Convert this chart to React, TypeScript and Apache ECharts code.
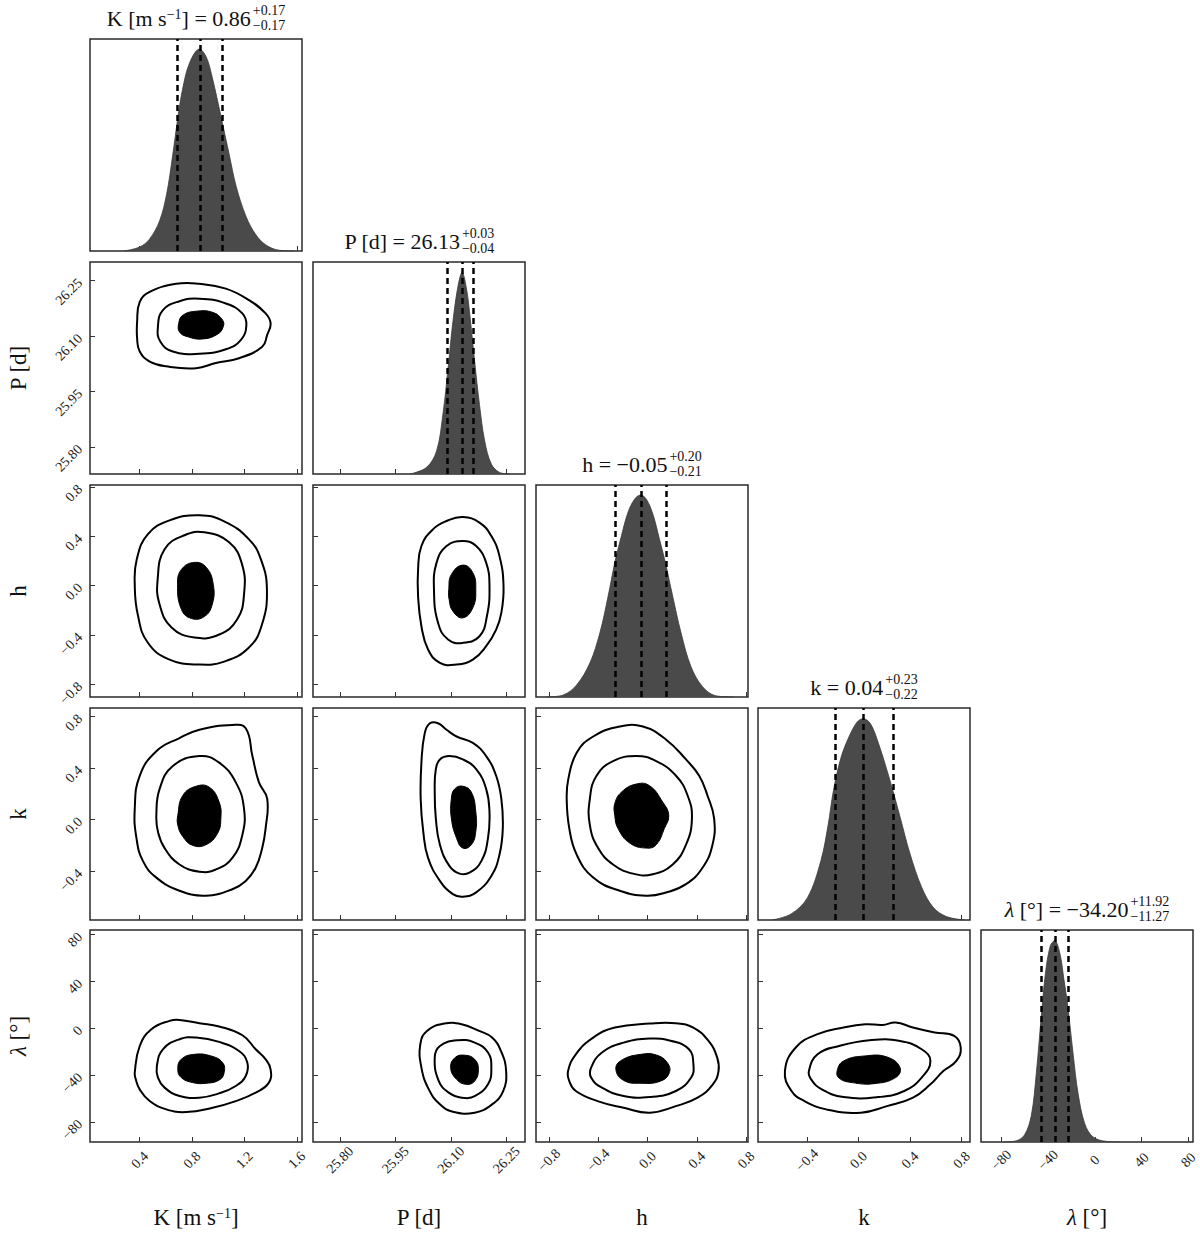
import React, { useEffect, useRef } from "react";
import * as echarts from "echarts";

const FONT = '"Liberation Serif", "DejaVu Serif", serif';

// ---------- axis ranges & ticks ----------
const rangeK = [0.02, 1.64];
const rangeP = [25.727, 26.3];
const rangeH = [-0.905, 0.815];
const rangeKk = [-0.78, 0.865];
const rangeL = [-97.3, 84];

const ticksK = [0.4, 0.8, 1.2, 1.6];
const ticksP = [25.8, 25.95, 26.1, 26.25];
const ticksH = [-0.8, -0.4, 0.0, 0.4, 0.8];
const ticksKk = [-0.4, 0.0, 0.4, 0.8];
const ticksL = [-80, -40, 0, 40, 80];
const tickDecimals = [1, 2, 1, 1, 0];

// ---------- summary statistics ----------
const medians = [0.86, 26.13, -0.05, 0.04, -34.2];
const errPlus = [0.17, 0.03, 0.2, 0.23, 11.92];
const errMinus = [0.17, 0.04, 0.21, 0.22, 11.27];

// ---------- marginal histograms (normalised heights) ----------
const histK = [[0.28, 0], [0.4, 0.02], [0.476, 0.06], [0.552, 0.15], [0.605, 0.28], [0.651, 0.47], [0.689, 0.65], [0.727, 0.8], [0.78, 0.93], [0.856, 1.0], [0.909, 0.96], [0.954, 0.86], [1.023, 0.66], [1.083, 0.48], [1.137, 0.32], [1.213, 0.17], [1.288, 0.08], [1.364, 0.03], [1.463, 0.004], [1.58, 0]];
const histP = [[25.99, 0], [26.034, 0.033], [26.061, 0.114], [26.078, 0.294], [26.092, 0.523], [26.105, 0.752], [26.119, 0.932], [26.13, 0.998], [26.142, 0.916], [26.152, 0.769], [26.164, 0.556], [26.177, 0.343], [26.191, 0.164], [26.209, 0.049], [26.231, 0.008], [26.26, 0]];
const histH = [[-0.82, 0], [-0.683, 0.01], [-0.575, 0.06], [-0.468, 0.168], [-0.387, 0.317], [-0.32, 0.499], [-0.266, 0.665], [-0.212, 0.798], [-0.159, 0.914], [-0.105, 0.98], [-0.056, 1.0], [-0.01, 0.98], [0.043, 0.906], [0.097, 0.781], [0.145, 0.665], [0.204, 0.499], [0.272, 0.317], [0.352, 0.151], [0.446, 0.051], [0.554, 0.006], [0.7, 0]];
const histKk = [[-0.67, 0], [-0.523, 0.03], [-0.395, 0.112], [-0.292, 0.294], [-0.236, 0.47], [-0.195, 0.64], [-0.138, 0.8], [-0.075, 0.906], [-0.01, 0.981], [0.036, 0.997], [0.092, 0.973], [0.156, 0.873], [0.221, 0.741], [0.267, 0.64], [0.323, 0.509], [0.4, 0.327], [0.49, 0.162], [0.579, 0.063], [0.682, 0.017], [0.82, 0]];
const histL = [[-78, 0], [-67.2, 0.006], [-60.1, 0.035], [-54.3, 0.13], [-50.0, 0.34], [-45.8, 0.62], [-42.1, 0.839], [-38.0, 0.972], [-34.3, 0.997], [-30.0, 0.938], [-26.4, 0.806], [-22.9, 0.664], [-18.6, 0.44], [-14.3, 0.241], [-8.6, 0.091], [-1.5, 0.025], [10.0, 0.003], [22, 0]];

// ---------- 2D contours (outer / middle / filled inner) ----------
const KP_outer = [[0.38, 26.138], [0.4, 26.192], [0.476, 26.219], [0.679, 26.241], [0.856, 26.241], [1.058, 26.228], [1.235, 26.197], [1.362, 26.161], [1.4, 26.134], [1.374, 26.103], [1.336, 26.071], [1.159, 26.04], [0.982, 26.027], [0.831, 26.013], [0.603, 26.018], [0.476, 26.031], [0.4, 26.058], [0.38, 26.094]];
const KP_mid = [[0.539, 26.125], [0.577, 26.17], [0.704, 26.194], [0.856, 26.201], [1.058, 26.188], [1.184, 26.161], [1.215, 26.129], [1.172, 26.089], [1.058, 26.064], [0.856, 26.052], [0.653, 26.058], [0.557, 26.085]];
const KP_inner = [[0.698, 26.134], [0.729, 26.156], [0.831, 26.167], [0.957, 26.164], [1.033, 26.143], [1.038, 26.125], [0.995, 26.105], [0.881, 26.092], [0.767, 26.098], [0.704, 26.111]];

const Kh_outer = [[0.377, 0.211], [0.461, 0.415], [0.628, 0.528], [0.856, 0.569], [1.045, 0.52], [1.235, 0.374], [1.326, 0.211], [1.372, -0.033], [1.334, -0.317], [1.235, -0.504], [1.045, -0.618], [0.856, -0.642], [0.628, -0.602], [0.461, -0.463], [0.385, -0.236], [0.362, 0.008]];
const Kh_mid = [[0.537, 0.049], [0.59, 0.293], [0.742, 0.407], [0.894, 0.431], [1.083, 0.35], [1.182, 0.171], [1.197, -0.073], [1.144, -0.276], [1.007, -0.398], [0.818, -0.423], [0.643, -0.341], [0.552, -0.154]];
const Kh_inner = [[0.689, 0.008], [0.719, 0.13], [0.818, 0.187], [0.909, 0.146], [0.962, 0.008], [0.954, -0.154], [0.894, -0.252], [0.795, -0.268], [0.719, -0.195]];

const Ph_outer = [[26.011, 0.13], [26.02, 0.32], [26.051, 0.455], [26.088, 0.523], [26.132, 0.555], [26.177, 0.51], [26.209, 0.401], [26.231, 0.238], [26.242, -0.006], [26.236, -0.222], [26.222, -0.358], [26.195, -0.493], [26.159, -0.602], [26.115, -0.642], [26.07, -0.628], [26.038, -0.52], [26.02, -0.331], [26.011, -0.087]];
const Ph_mid = [[26.054, -0.033], [26.061, 0.185], [26.088, 0.32], [26.132, 0.36], [26.168, 0.32], [26.195, 0.185], [26.204, -0.006], [26.197, -0.25], [26.177, -0.412], [26.132, -0.466], [26.092, -0.439], [26.065, -0.303]];
const Ph_inner = [[26.094, -0.033], [26.101, 0.089], [26.132, 0.165], [26.159, 0.103], [26.167, -0.033], [26.159, -0.181], [26.132, -0.263], [26.105, -0.209], [26.095, -0.114]];

const Kk_outer = [[0.362, 0.084], [0.4, 0.339], [0.527, 0.53], [0.704, 0.632], [0.856, 0.696], [1.108, 0.734], [1.21, 0.708], [1.261, 0.492], [1.311, 0.288], [1.374, 0.161], [1.362, -0.069], [1.336, -0.222], [1.286, -0.375], [1.21, -0.477], [1.108, -0.541], [0.906, -0.591], [0.704, -0.553], [0.527, -0.451], [0.425, -0.323], [0.375, -0.145]];
const Kk_mid = [[0.527, 0.033], [0.552, 0.237], [0.653, 0.415], [0.856, 0.492], [1.007, 0.441], [1.134, 0.288], [1.197, 0.084], [1.184, -0.12], [1.108, -0.298], [0.982, -0.388], [0.856, -0.405], [0.704, -0.349], [0.59, -0.222], [0.539, -0.094]];
const Kk_inner = [[0.691, 0.033], [0.729, 0.186], [0.831, 0.258], [0.932, 0.25], [1.007, 0.135], [1.02, 0.008], [0.995, -0.107], [0.906, -0.196], [0.805, -0.201], [0.729, -0.132], [0.691, -0.044]];

const Pk_outer = [[26.029, 0.67], [26.043, 0.747], [26.065, 0.747], [26.088, 0.696], [26.115, 0.644], [26.159, 0.594], [26.195, 0.492], [26.222, 0.339], [26.236, 0.161], [26.24, -0.069], [26.231, -0.273], [26.209, -0.438], [26.168, -0.566], [26.132, -0.599], [26.105, -0.579], [26.07, -0.476], [26.038, -0.298], [26.025, -0.094], [26.018, 0.161], [26.02, 0.441]];
const Pk_mid = [[26.059, 0.39], [26.07, 0.466], [26.096, 0.492], [26.132, 0.466], [26.168, 0.39], [26.195, 0.237], [26.204, 0.059], [26.2, -0.145], [26.182, -0.323], [26.15, -0.413], [26.123, -0.42], [26.096, -0.362], [26.07, -0.196], [26.059, 0.008], [26.056, 0.212]];
const Pk_inner = [[26.101, 0.161], [26.11, 0.237], [26.132, 0.258], [26.155, 0.212], [26.167, 0.059], [26.167, -0.094], [26.155, -0.196], [26.132, -0.222], [26.115, -0.145], [26.101, 0.008]];

const hk_outer = [[-0.643, 0.313], [-0.575, 0.518], [-0.441, 0.644], [-0.226, 0.721], [-0.038, 0.721], [0.151, 0.619], [0.312, 0.466], [0.419, 0.339], [0.486, 0.186], [0.54, 0.008], [0.527, -0.196], [0.446, -0.375], [0.312, -0.502], [0.151, -0.566], [-0.01, -0.591], [-0.226, -0.553], [-0.441, -0.451], [-0.575, -0.273], [-0.635, -0.069], [-0.656, 0.161]];
const hk_mid = [[-0.468, 0.161], [-0.414, 0.339], [-0.28, 0.453], [-0.091, 0.492], [0.07, 0.453], [0.231, 0.339], [0.325, 0.186], [0.36, 0.008], [0.312, -0.196], [0.204, -0.349], [0.043, -0.425], [-0.118, -0.42], [-0.28, -0.349], [-0.401, -0.222], [-0.468, -0.044]];
const hk_inner = [[-0.266, 0.122], [-0.212, 0.212], [-0.091, 0.275], [0.016, 0.262], [0.123, 0.135], [0.172, 0.033], [0.137, -0.069], [0.07, -0.196], [-0.01, -0.222], [-0.145, -0.183], [-0.24, -0.069], [-0.266, 0.033]];

const Kl_outer = [[0.362, -38.0], [0.4, -15.2], [0.489, -0.9], [0.628, 6.3], [0.704, 7.1], [0.856, 4.3], [1.007, 1.5], [1.185, -6.0], [1.286, -18.0], [1.362, -26.6], [1.4, -35.1], [1.387, -46.5], [1.286, -55.1], [1.134, -62.3], [0.957, -68.0], [0.755, -71.7], [0.603, -69.4], [0.476, -62.3], [0.4, -52.3], [0.37, -43.7]];
const Kl_mid = [[0.531, -32.3], [0.577, -18.0], [0.704, -9.4], [0.831, -8.0], [1.007, -11.7], [1.159, -19.5], [1.222, -29.4], [1.21, -40.9], [1.134, -49.4], [1.007, -55.7], [0.856, -59.4], [0.704, -58.0], [0.59, -50.8], [0.539, -42.2]];
const Kl_inner = [[0.691, -35.1], [0.717, -26.6], [0.818, -22.3], [0.944, -23.7], [1.033, -29.4], [1.045, -38.0], [1.007, -44.3], [0.906, -47.1], [0.805, -46.5], [0.717, -42.2]];

const Pl_outer = [[26.017, -13.7], [26.035, -2.3], [26.082, 4.0], [26.129, 3.4], [26.176, -2.3], [26.211, -8.0], [26.235, -19.5], [26.249, -36.6], [26.241, -53.7], [26.211, -65.1], [26.164, -72.2], [26.105, -71.4], [26.07, -65.1], [26.04, -52.3], [26.02, -33.7]];
const Pl_mid = [[26.056, -25.1], [26.07, -15.2], [26.117, -10.3], [26.164, -12.3], [26.2, -20.8], [26.209, -33.7], [26.2, -48.0], [26.164, -58.0], [26.129, -59.4], [26.094, -55.1], [26.067, -45.2]];
const Pl_inner = [[26.099, -33.7], [26.111, -25.1], [26.138, -23.1], [26.164, -26.6], [26.174, -35.1], [26.164, -45.2], [26.141, -48.0], [26.115, -43.7]];

const hl_outer = [[-0.645, -36.6], [-0.582, -22.3], [-0.441, -8.0], [-0.265, 0.6], [0.019, 4.0], [0.23, 4.3], [0.371, 0.6], [0.495, -10.9], [0.565, -25.1], [0.576, -36.6], [0.53, -48.0], [0.406, -59.4], [0.23, -66.6], [0.019, -72.2], [-0.194, -68.0], [-0.406, -62.3], [-0.582, -53.7], [-0.635, -45.2]];
const hl_mid = [[-0.458, -33.7], [-0.37, -20.8], [-0.194, -12.3], [0.019, -8.8], [0.195, -10.9], [0.336, -18.0], [0.372, -30.8], [0.354, -42.2], [0.23, -53.7], [0.019, -58.9], [-0.194, -58.0], [-0.37, -50.8], [-0.458, -42.2]];
const hl_inner = [[-0.257, -35.1], [-0.211, -27.4], [-0.052, -22.3], [0.071, -22.9], [0.16, -29.4], [0.177, -38.0], [0.106, -45.2], [-0.052, -47.1], [-0.194, -44.6]];

const kl_outer = [[-0.571, -36.6], [-0.487, -16.5], [-0.318, -5.1], [-0.116, 0.6], [0.052, 3.4], [0.187, 2.8], [0.288, 4.9], [0.422, 0.6], [0.591, -3.7], [0.742, -6.6], [0.793, -16.5], [0.759, -28.0], [0.658, -36.6], [0.558, -48.0], [0.423, -59.4], [0.221, -66.6], [0.018, -72.2], [-0.251, -69.4], [-0.419, -62.3], [-0.52, -53.7]];
const kl_mid = [[-0.385, -36.6], [-0.318, -22.3], [-0.15, -15.2], [0.086, -10.3], [0.322, -10.9], [0.49, -18.0], [0.558, -28.0], [0.49, -42.2], [0.355, -53.7], [0.153, -58.9], [-0.116, -58.9], [-0.285, -52.3], [-0.368, -43.7]];
const kl_inner = [[-0.166, -36.6], [-0.116, -28.0], [0.052, -23.7], [0.221, -24.6], [0.322, -33.7], [0.288, -42.2], [0.119, -47.4], [-0.048, -46.5], [-0.15, -42.8]];

// ---------- layout ----------
const gridLefts = [90, 313, 536, 758, 981];
const gridTops = [39, 262, 485, 708, 930];
const PANEL = 212;

const ranges = [rangeK, rangeP, rangeH, rangeKk, rangeL];
const ticks = [ticksK, ticksP, ticksH, ticksKk, ticksL];
const hists = [histK, histP, histH, histKk, histL];

const paramNames: [string, string][][] = [
  [["a", "K [m s"], ["s", "\u22121"], ["a", "]"]],
  [["a", "P [d]"]],
  [["a", "h"]],
  [["a", "k"]],
  [["i", "\u03bb"], ["a", " [\u00b0]"]],
];

const panels2d = [
  { row: 1, col: 0, outer: KP_outer, mid: KP_mid, inner: KP_inner },
  { row: 2, col: 0, outer: Kh_outer, mid: Kh_mid, inner: Kh_inner },
  { row: 2, col: 1, outer: Ph_outer, mid: Ph_mid, inner: Ph_inner },
  { row: 3, col: 0, outer: Kk_outer, mid: Kk_mid, inner: Kk_inner },
  { row: 3, col: 1, outer: Pk_outer, mid: Pk_mid, inner: Pk_inner },
  { row: 3, col: 2, outer: hk_outer, mid: hk_mid, inner: hk_inner },
  { row: 4, col: 0, outer: Kl_outer, mid: Kl_mid, inner: Kl_inner },
  { row: 4, col: 1, outer: Pl_outer, mid: Pl_mid, inner: Pl_inner },
  { row: 4, col: 2, outer: hl_outer, mid: hl_mid, inner: hl_inner },
  { row: 4, col: 3, outer: kl_outer, mid: kl_mid, inner: kl_inner },
];

const minus = (s: string) => s.replace("-", "\u2212");
const fmt = (v: number, d: number) => minus(v.toFixed(d));

function richStyles(size: number) {
  return {
    a: { fontSize: size, fontFamily: FONT, color: "#111" },
    s: { fontSize: Math.round(size * 0.62), fontFamily: FONT, color: "#111", verticalAlign: "top" },
    i: { fontSize: size, fontFamily: FONT, fontStyle: "italic", color: "#111" },
  };
}
const toRich = (segs: [string, string][]) => segs.map(([s, t]) => `{${s}|${t}}`).join("");

export default function App() {
  const ref = useRef<HTMLDivElement>(null);
  useEffect(() => {
    if (!ref.current) return;
    const chart = echarts.init(ref.current, null, { renderer: "svg" });

    const canvas = document.createElement("canvas");
    const ctx = canvas.getContext("2d")!;
    const measure = (t: string, size: number, italic = false) => {
      ctx.font = `${italic ? "italic " : ""}${size}px ${FONT}`;
      return ctx.measureText(t).width;
    };

    const grids: any[] = [];
    const xAxes: any[] = [];
    const yAxes: any[] = [];
    const series: any[] = [];
    const gridIndex: Record<string, number> = {};

    const nameStyle = (size: number) => ({
      fontFamily: FONT,
      fontSize: size,
      color: "#111",
      rich: richStyles(size),
    });

    const tickStyle = (vals: number[]) => ({
      show: true,
      inside: true,
      length: 5,
      customValues: vals,
      lineStyle: { color: "#333", width: 1 },
    });

    for (let i = 0; i < 5; i++) {
      for (let j = 0; j <= i; j++) {
        const g = grids.length;
        gridIndex[`${i}-${j}`] = g;
        grids.push({
          left: gridLefts[j],
          top: gridTops[i],
          width: PANEL,
          height: PANEL,
          show: true,
          borderColor: "#2a2a2a",
          borderWidth: 1.5,
          backgroundColor: "#fff",
          containLabel: false,
          outerBoundsMode: "none",
        });
        const dx = tickDecimals[j];
        xAxes.push({
          gridIndex: g,
          type: "value",
          position: "bottom",
          min: ranges[j][0],
          max: ranges[j][1],
          axisLine: { show: false, onZero: false },
          splitLine: { show: false },
          axisTick: tickStyle(ticks[j]),
          axisLabel: {
            show: i === 4,
            customValues: ticks[j],
            rotate: 45,
            align: "center",
            verticalAlign: "middle",
            margin: 18,
            fontFamily: FONT,
            fontSize: 14,
            color: "#1a1a1a",
            formatter: (v: number) => fmt(v, dx),
          },
          name: i === 4 ? toRich(paramNames[j]) : "",
          nameLocation: "middle",
          nameGap: 64,
          nameTextStyle: nameStyle(23),
        });
        if (i === j) {
          yAxes.push({ gridIndex: g, type: "value", min: 0, max: 1.05, show: false });
        } else {
          const dy = tickDecimals[i];
          yAxes.push({
            gridIndex: g,
            type: "value",
            position: "left",
            min: ranges[i][0],
            max: ranges[i][1],
            axisLine: { show: false, onZero: false },
            splitLine: { show: false },
            axisTick: tickStyle(ticks[i]),
            axisLabel: {
              show: j === 0,
              customValues: ticks[i],
              rotate: 45,
              margin: 10,
              fontFamily: FONT,
              fontSize: 14,
              color: "#1a1a1a",
              formatter: (v: number) => fmt(v, dy),
            },
            name: j === 0 ? toRich(paramNames[i]) : "",
            nameLocation: "middle",
            nameGap: 60,
            nameTextStyle: nameStyle(23),
          });
        }
      }
    }

    // diagonal histograms
    for (let p = 0; p < 5; p++) {
      const g = gridIndex[`${p}-${p}`];
      series.push({
        type: "line",
        xAxisIndex: g,
        yAxisIndex: g,
        data: hists[p],
        smooth: 0.35,
        symbol: "none",
        silent: true,
        lineStyle: { color: "#3a3a3a", width: 0.8 },
        areaStyle: { color: "#4a4a4a", opacity: 1 },
        markLine: {
          silent: true,
          symbol: ["none", "none"],
          label: { show: false },
          lineStyle: { color: "#000", type: [6, 4], width: 2.5 },
          data: [
            { xAxis: medians[p] - errMinus[p] },
            { xAxis: medians[p] },
            { xAxis: medians[p] + errPlus[p] },
          ],
        },
      });
    }

    // 2D contours
    panels2d.forEach((pn) => {
      const g = gridIndex[`${pn.row}-${pn.col}`];
      series.push({
        type: "custom",
        coordinateSystem: "cartesian2d",
        xAxisIndex: g,
        yAxisIndex: g,
        silent: true,
        data: [pn.inner[0]],
        renderItem: (_params: any, api: any) => {
          const pts = (arr: number[][]) => arr.map((d) => api.coord(d));
          return {
            type: "group",
            children: [
              { type: "polygon", shape: { points: pts(pn.inner), smooth: 0.45 }, style: { fill: "#000", stroke: "#000", lineWidth: 1 } },
              { type: "polygon", shape: { points: pts(pn.mid), smooth: 0.45 }, style: { fill: "none", stroke: "#000", lineWidth: 2 } },
              { type: "polygon", shape: { points: pts(pn.outer), smooth: 0.45 }, style: { fill: "none", stroke: "#000", lineWidth: 2 } },
            ],
          };
        },
      });
    });

    // titles above diagonal panels
    const graphics: any[] = [];
    const MAIN = 22;
    const SUP = 14;
    for (let p = 0; p < 5; p++) {
      const segs: [string, string][] = [...paramNames[p], ["a", ` = ${fmt(medians[p], 2)}`]];
      let wMain = 0;
      segs.forEach(([s, t]) => {
        wMain += measure(t, s === "s" ? Math.round(MAIN * 0.62) : MAIN, s === "i");
      });
      const supT = `+${errPlus[p].toFixed(2)}`;
      const subT = `\u2212${errMinus[p].toFixed(2)}`;
      const wSup = Math.max(measure(supT, SUP), measure(subT, SUP));
      const center = gridLefts[p] + PANEL / 2;
      const total = wMain + 2 + wSup;
      const X = center - total / 2 + wMain;
      const top = gridTops[p];
      graphics.push({
        type: "text",
        x: X,
        y: top - 21,
        silent: true,
        style: {
          text: toRich(segs),
          rich: richStyles(MAIN),
          fontFamily: FONT,
          fontSize: MAIN,
          fill: "#111",
          align: "right",
          verticalAlign: "middle",
        },
      });
      graphics.push({
        type: "text",
        x: X + 2,
        y: top - 28.5,
        silent: true,
        style: { text: supT, fontFamily: FONT, fontSize: SUP, fill: "#111", align: "left", verticalAlign: "middle" },
      });
      graphics.push({
        type: "text",
        x: X + 2,
        y: top - 13.5,
        silent: true,
        style: { text: subT, fontFamily: FONT, fontSize: SUP, fill: "#111", align: "left", verticalAlign: "middle" },
      });
    }

    chart.setOption({
      animation: false,
      backgroundColor: "#fff",
      textStyle: { fontFamily: FONT },
      grid: grids,
      xAxis: xAxes,
      yAxis: yAxes,
      series,
      graphic: graphics,
    });

    return () => chart.dispose();
  }, []);

  return (
    <div
      ref={ref}
      style={{ position: "absolute", left: 0, top: 0, width: 1200, height: 1235, background: "#fff" }}
    />
  );
}
